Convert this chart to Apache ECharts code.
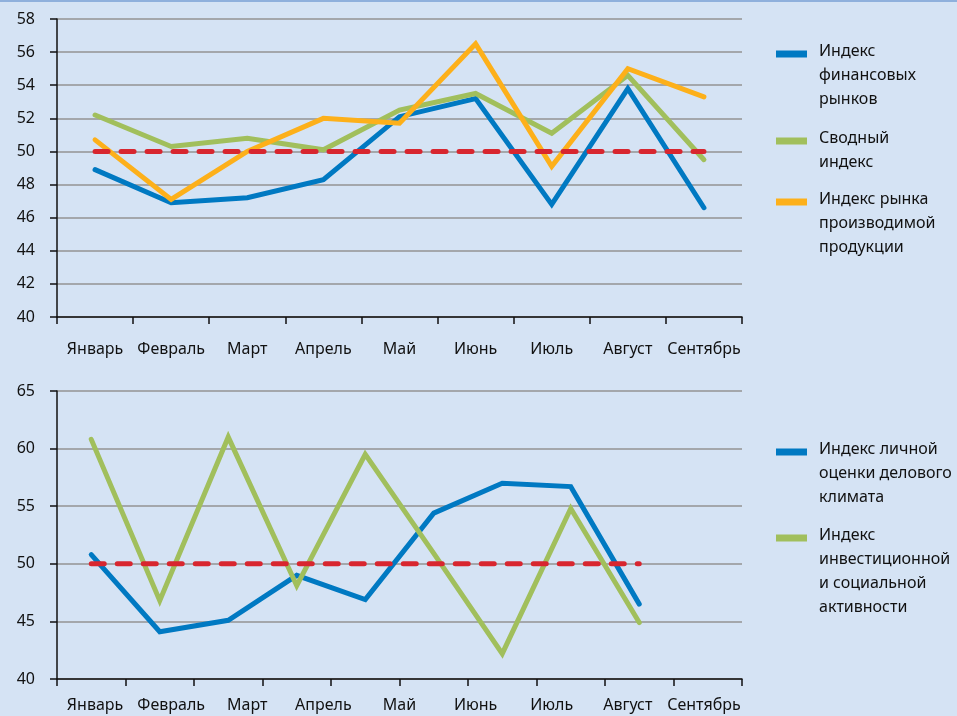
<!DOCTYPE html>
<html>
<head>
<meta charset="utf-8">
<script src="https://cdn.jsdelivr.net/npm/echarts@6/dist/echarts.min.js"></script>
<style>
  html, body { margin: 0; padding: 0; background: #d5e3f4; }
  #chart { width: 957px; height: 716px; border-top: 2px solid #8fb0dc; box-sizing: border-box; }
</style>
</head>
<body>
<div id="chart"></div>
<script>
// Months shown on both category axes
const months = ['Январь', 'Февраль', 'Март', 'Апрель', 'Май', 'Июнь', 'Июль', 'Август', 'Сентябрь'];
// Lower panel has one spare slot at the end of its axis
const monthSlots = ['Январь', 'Февраль', 'Март', 'Апрель', 'Май', 'Июнь', 'Июль', 'Август', 'Сентябрь', ''];

// Upper panel indices
const financialMarkets = [48.9, 46.9, 47.2, 48.3, 52.1, 53.2, 46.8, 53.8, 46.6];
const compositeIndex   = [52.2, 50.3, 50.8, 50.1, 52.5, 53.5, 51.1, 54.6, 49.5];
const productMarket    = [50.7, 47.1, 50.0, 52.0, 51.7, 56.5, 49.1, 55.0, 53.3];
const neutralTop       = [50, 50, 50, 50, 50, 50, 50, 50, 50];

// Lower panel indices
const businessClimate  = [50.8, 44.1, 45.1, 49.0, 46.9, 54.4, 57.0, 56.7, 46.5];
const investActivity   = [60.8, 46.8, 61.0, 48.1, 59.5, 50.9, 42.2, 54.8, 44.9];
const neutralBottom    = [50, 50, 50, 50, 50, 50, 50, 50, 50];

// Tick values
const topTicks = [40, 58, 2];
const bottomTicks = [40, 65, 5];

const BLUE = '#0079c2', GREEN = '#a1bf5c', ORANGE = '#fdb01a', RED = '#d8262f';
const FONT = 'Noto Sans';
const TEXT = '#111';
const gridLine = { show: true, lineStyle: { color: '#939393', width: 1.5 } };
const axisBlack = { show: true, lineStyle: { color: '#111', width: 1.5 } };
const tickBlack = { show: true, length: 7, interval: 0, lineStyle: { color: '#111', width: 1.5 } };

function lineSeries(name, data, color, xi, yi, dashed) {
  return {
    name, type: 'line', data, xAxisIndex: xi, yAxisIndex: yi,
    symbol: 'none', silent: true, z: dashed ? 3 : 2,
    lineStyle: dashed
      ? { color, width: 5, type: [13, 13], cap: 'round' }
      : { color, width: 5, cap: 'round', join: 'miter' }
  };
}

function legendBlock(x, y, color, lines) {
  const items = [{
    type: 'rect', left: x, top: y - 3.5,
    shape: { width: 31, height: 7 }, style: { fill: color }
  }];
  lines.forEach((t, i) => {
    items.push({
      type: 'text', left: x + 43, top: y - 11 + i * 24,
      style: { text: t, fill: TEXT, font: '16px "' + FONT + '"' }
    });
  });
  return items;
}

const chart = echarts.init(document.getElementById('chart'), null, { renderer: 'canvas' });
chart.setOption({
  backgroundColor: '#d5e3f4',
  animation: false,
  textStyle: { fontFamily: FONT },
  grid: [
    { left: 57, right: 215, top: 17, height: 298 },
    { left: 57, right: 215, top: 389, height: 288 }
  ],
  xAxis: [
    {
      type: 'category', gridIndex: 0, data: months, boundaryGap: true, position: 'bottom',
      axisLine: axisBlack, axisTick: tickBlack,
      axisLabel: { color: TEXT, fontSize: 16, margin: 24, interval: 0 },
      splitLine: { show: false }
    },
    {
      type: 'category', gridIndex: 1, data: monthSlots, boundaryGap: true, position: 'bottom',
      axisLine: axisBlack, axisTick: tickBlack,
      axisLabel: { show: false },
      splitLine: { show: false }
    },
    {
      type: 'category', gridIndex: 1, data: months, boundaryGap: true, position: 'bottom', offset: 0,
      axisLine: { show: false }, axisTick: { show: false },
      axisLabel: { color: TEXT, fontSize: 16, margin: 18, interval: 0 },
      splitLine: { show: false }
    }
  ],
  yAxis: [
    {
      type: 'value', gridIndex: 0, min: topTicks[0], max: topTicks[1], interval: topTicks[2],
      axisLine: axisBlack, axisTick: tickBlack,
      axisLabel: { color: TEXT, fontSize: 16, margin: 22 },
      splitLine: gridLine
    },
    {
      type: 'value', gridIndex: 1, min: bottomTicks[0], max: bottomTicks[1], interval: bottomTicks[2],
      axisLine: axisBlack, axisTick: tickBlack,
      axisLabel: { color: TEXT, fontSize: 16, margin: 22 },
      splitLine: gridLine
    }
  ],
  series: [
    lineSeries('Индекс финансовых рынков', financialMarkets, BLUE, 0, 0),
    lineSeries('Сводный индекс', compositeIndex, GREEN, 0, 0),
    lineSeries('Индекс рынка производимой продукции', productMarket, ORANGE, 0, 0),
    lineSeries('50', neutralTop, RED, 0, 0, true),
    lineSeries('Индекс личной оценки делового климата', businessClimate, BLUE, 1, 1),
    lineSeries('Индекс инвестиционной и социальной активности', investActivity, GREEN, 1, 1),
    lineSeries('50 ', neutralBottom, RED, 1, 1, true)
  ],
  graphic: [].concat(
    legendBlock(776, 52, BLUE, ['Индекс', 'финансовых', 'рынков']),
    legendBlock(776, 139, GREEN, ['Сводный', 'индекс']),
    legendBlock(776, 200, ORANGE, ['Индекс рынка', 'производимой', 'продукции']),
    legendBlock(776, 450, BLUE, ['Индекс личной', 'оценки делового', 'климата']),
    legendBlock(776, 536, GREEN, ['Индекс', 'инвестиционной', 'и социальной', 'активности'])
  )
});
</script>
</body>
</html>
